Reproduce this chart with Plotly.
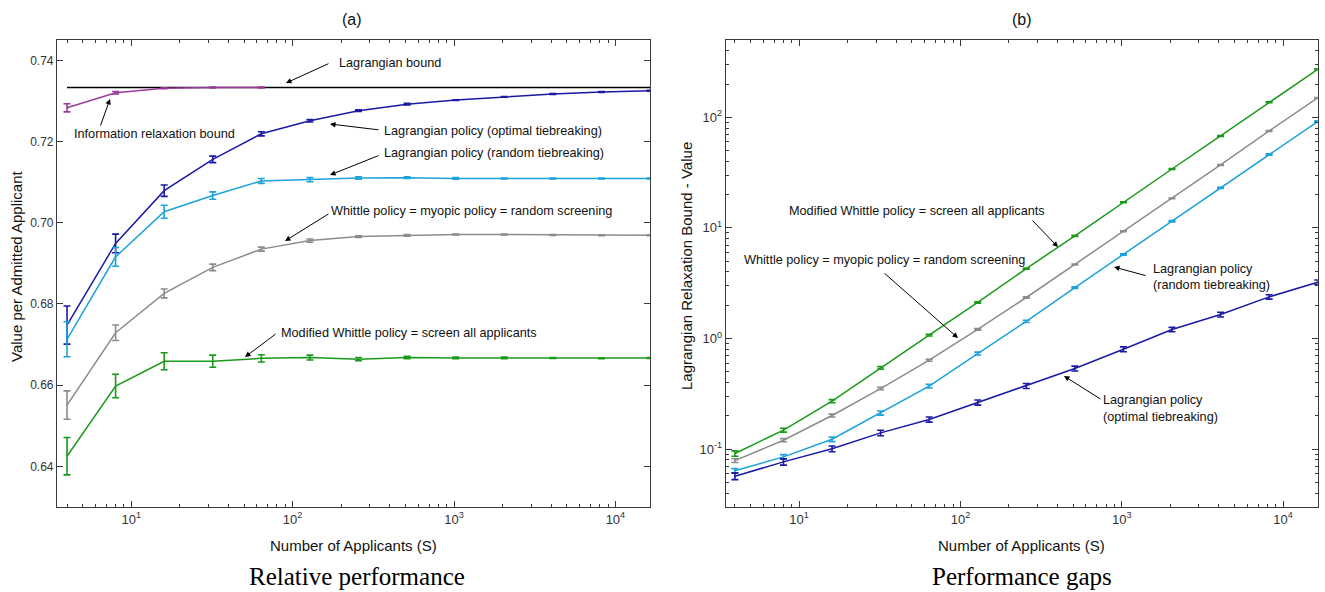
import plotly.graph_objects as go

# ---------------- data ----------------
S = [4, 8, 16, 32, 64, 128, 256, 512, 1024, 2048, 4096, 8192, 16384]

# panel (a): value per admitted applicant
bound_S = [4, 16384]
bound_val = [0.7333, 0.7333]
info_S = [4, 8, 16, 32, 64]
info_val = [0.7283, 0.7320, 0.7331, 0.7333, 0.7333]
info_err = [0.0010, 0.0003, 0.0001, 0.0001, 0.0001]
lag_opt_val = [0.6748, 0.6949, 0.7079, 0.7156, 0.7219, 0.7251, 0.7276, 0.7292, 0.7302, 0.7310, 0.7317, 0.7322, 0.7325]
lag_opt_err = [0.0047, 0.0023, 0.0014, 0.0008, 0.0005, 0.0003, 0.0002, 0.0002, 0.0001, 0.0001, 0.0001, 0.0001, 0.0001]
lag_rand_val = [0.6713, 0.6916, 0.7027, 0.7067, 0.7103, 0.7106, 0.7110, 0.7111, 0.7109, 0.7109, 0.7109, 0.7109, 0.7109]
lag_rand_err = [0.0043, 0.0023, 0.0016, 0.0009, 0.0006, 0.0005, 0.0003, 0.0002, 0.0002, 0.0001, 0.0001, 0.0001, 0.0001]
whittle_val = [0.6551, 0.6729, 0.6826, 0.6890, 0.6935, 0.6956, 0.6966, 0.6969, 0.6971, 0.6971, 0.6970, 0.6969, 0.6969]
whittle_err = [0.0035, 0.0019, 0.0011, 0.0008, 0.0005, 0.0004, 0.0002, 0.0002, 0.0001, 0.0001, 0.0001, 0.0001, 0.0001]
mod_val = [0.6425, 0.6598, 0.6659, 0.6659, 0.6666, 0.6668, 0.6664, 0.6668, 0.6667, 0.6667, 0.6667, 0.6666, 0.6667]
mod_err = [0.0046, 0.0029, 0.0021, 0.0015, 0.0009, 0.0006, 0.0004, 0.0003, 0.0002, 0.0002, 0.0001, 0.0001, 0.0001]

# panel (b): Lagrangian relaxation bound - value
gap_mod = [0.0914, 0.1486, 0.2716, 0.543, 1.073, 2.12, 4.29, 8.47, 17.1, 34.1, 67.9, 137.0, 272.0]
gap_mod_err = [0.005, 0.006, 0.009, 0.014, 0.02, 0.03, 0.05, 0.09, 0.17, 0.3, 0.6, 1.2, 2.4]
gap_whittle = [0.0788, 0.1205, 0.2014, 0.353, 0.637, 1.21, 2.35, 4.67, 9.33, 18.5, 37.1, 75.3, 149.7]
gap_whittle_err = [0.003, 0.004, 0.006, 0.009, 0.013, 0.02, 0.03, 0.05, 0.09, 0.17, 0.35, 0.7, 1.3]
gap_rand = [0.0637, 0.0852, 0.123, 0.212, 0.371, 0.731, 1.43, 2.89, 5.75, 11.5, 23.0, 46.1, 91.6]
gap_rand_err = [0.003, 0.004, 0.006, 0.009, 0.014, 0.022, 0.035, 0.05, 0.08, 0.15, 0.3, 0.6, 1.3]
gap_opt = [0.057, 0.0767, 0.1007, 0.1403, 0.1854, 0.264, 0.373, 0.536, 0.80, 1.206, 1.648, 2.38, 3.23]
gap_opt_err = [0.004, 0.005, 0.006, 0.008, 0.010, 0.014, 0.019, 0.027, 0.04, 0.055, 0.08, 0.11, 0.15]

x_major = [10, 100, 1000, 10000]
x_major_text = ["10<sup>1</sup>", "10<sup>2</sup>", "10<sup>3</sup>", "10<sup>4</sup>"]
x_minor = [4, 5, 6, 7, 8, 9, 20, 30, 40, 50, 60, 70, 80, 90, 200, 300, 400, 500, 600, 700, 800, 900,
           2000, 3000, 4000, 5000, 6000, 7000, 8000, 9000]
ya_ticks = [0.64, 0.66, 0.68, 0.70, 0.72, 0.74]
ya_text = ["0.64", "0.66", "0.68", "0.70", "0.72", "0.74"]
yb_major = [0.1, 1, 10, 100]
yb_major_text = ["10<sup>-1</sup>", "10<sup>0</sup>", "10<sup>1</sup>", "10<sup>2</sup>"]
yb_minor = [0.04, 0.05, 0.06, 0.07, 0.08, 0.09, 0.2, 0.3, 0.4, 0.5, 0.6, 0.7, 0.8, 0.9,
            2, 3, 4, 5, 6, 7, 8, 9, 20, 30, 40, 50, 60, 70, 80, 90, 200, 300, 400, 500]

DARKBLUE = "#1a1aa6"
LIGHTBLUE = "#1da2dc"
GRAY = "#8c8c8c"
GREEN = "#1a9a1a"
PURPLE = "#9a3a9a"

W, H = 1325, 592
FONT = "Liberation Sans, Arial, sans-serif"
ANN_SIZE = 12.7

fig = go.Figure()


def add_series(x, y, err, color, xa, ya, lw=1.5):
    fig.add_trace(go.Scatter(
        x=x, y=y, mode="lines", line=dict(color=color, width=lw),
        error_y=dict(type="data", array=err, visible=True, color=color, thickness=1.6, width=3.5) if err else None,
        xaxis=xa, yaxis=ya, showlegend=False, hoverinfo="skip"))


# panel (a)
add_series(bound_S, bound_val, None, "black", "x", "y", lw=1.6)
add_series(info_S, info_val, info_err, PURPLE, "x", "y")
add_series(S, lag_opt_val, lag_opt_err, DARKBLUE, "x", "y")
add_series(S, lag_rand_val, lag_rand_err, LIGHTBLUE, "x", "y")
add_series(S, whittle_val, whittle_err, GRAY, "x", "y")
add_series(S, mod_val, mod_err, GREEN, "x", "y")

# panel (b)
add_series(S, gap_mod, gap_mod_err, GREEN, "x2", "y2")
add_series(S, gap_whittle, gap_whittle_err, GRAY, "x2", "y2")
add_series(S, gap_rand, gap_rand_err, LIGHTBLUE, "x2", "y2")
add_series(S, gap_opt, gap_opt_err, DARKBLUE, "x2", "y2")


def px(x):
    return x / W


def py(y):
    return 1 - y / H


axis_common = dict(
    showline=True, linecolor="#3a3a3a", linewidth=1.2, mirror="ticks",
    ticks="inside", ticklen=6, tickcolor="#3a3a3a", tickwidth=1,
    showgrid=False, zeroline=False,
    tickfont=dict(family=FONT, size=13, color="#333333"),
)
xaxis_common = dict(axis_common, type="log", tickmode="array", tickvals=x_major, ticktext=x_major_text,
                    minor=dict(tickmode="array", tickvals=x_minor, ticks="inside", ticklen=3,
                               tickcolor="#3a3a3a", showgrid=False))

fig.update_layout(
    width=W, height=H,
    margin=dict(l=0, r=0, t=0, b=0),
    paper_bgcolor="white", plot_bgcolor="white",
    font=dict(family=FONT, size=12, color="#222222"),
    xaxis=dict(xaxis_common, domain=[px(57), px(650)], range=[0.54, 4.2144], anchor="y"),
    yaxis=dict(axis_common, domain=[py(507), py(40)], range=[0.63, 0.745], tickmode="array",
               tickvals=ya_ticks, ticktext=ya_text, anchor="x",
               tickfont=dict(family=FONT, size=12, color="#333333")),
    xaxis2=dict(xaxis_common, domain=[px(725.7), px(1317.7)], range=[0.545, 4.2146], anchor="y2"),
    yaxis2=dict(axis_common, type="log", domain=[py(507), py(40)], range=[-1.5229, 2.699],
                tickmode="array", tickvals=yb_major, ticktext=yb_major_text, anchor="x2",
                minor=dict(tickmode="array", tickvals=yb_minor, ticks="inside", ticklen=3,
                           tickcolor="#3a3a3a", showgrid=False)),
)

ann = []


def text(x, y, s, size=ANN_SIZE, xanchor="left", family=FONT, color="#111111", angle=0):
    ann.append(dict(x=px(x), y=py(y), xref="paper", yref="paper", text=s, showarrow=False,
                    xanchor=xanchor, yanchor="middle", textangle=angle,
                    font=dict(family=family, size=size, color=color)))


def arrow(hx, hy, tx, ty):
    ann.append(dict(x=px(hx), y=py(hy), xref="paper", yref="paper", text="", showarrow=True,
                    ax=tx - hx, ay=ty - hy, axref="pixel", ayref="pixel",
                    arrowhead=2, arrowsize=1.1, arrowwidth=1, arrowcolor="black", standoff=0, startstandoff=0))


# titles
text(352, 20, "(a)", size=16, xanchor="center")
text(1022, 20, "(b)", size=16, xanchor="center")
text(353.5, 545, "Number of Applicants (S)", size=15, xanchor="center")
text(1021.7, 545, "Number of Applicants (S)", size=15, xanchor="center")
text(16, 266, "Value per Admitted Applicant", size=15, xanchor="center", angle=-90)
text(686, 266, "Lagrangian Relaxation Bound - Value", size=15, xanchor="center", angle=-90)
text(357, 576, "Relative performance", size=25, xanchor="center", family="Liberation Serif, serif", color="#000000")
text(1022, 576, "Performance gaps", size=25, xanchor="center", family="Liberation Serif, serif", color="#000000")

# panel (a) annotations
text(337, 63, "Lagrangian bound")
arrow(286, 83, 330, 63)
text(72, 134, "Information relaxation bound")
arrow(110, 99, 100, 127)
text(382, 131, "Lagrangian policy (optimal tiebreaking)")
arrow(330, 124, 380, 130)
text(382, 153, "Lagrangian policy (random tiebreaking)")
arrow(330, 175, 380, 155)
text(329, 211, "Whittle policy = myopic policy = random screening")
arrow(285, 241, 330, 213)
text(279, 333, "Modified Whittle policy = screen all applicants")
arrow(245, 357, 277, 333)

# panel (b) annotations
text(787, 211, "Modified Whittle policy = screen all applicants")
arrow(1058, 247, 1031, 219)
text(742, 260, "Whittle policy = myopic policy = random screening")
arrow(958, 338, 883, 272)
text(1151, 269, "Lagrangian policy")
text(1151, 285, "(random tiebreaking)")
arrow(1114, 267, 1147, 276)
text(1101, 400, "Lagrangian policy")
text(1101, 417, "(optimal tiebreaking)")
arrow(1064, 376, 1102, 400)

fig.update_layout(annotations=ann)
fig.write_html("out.html")
